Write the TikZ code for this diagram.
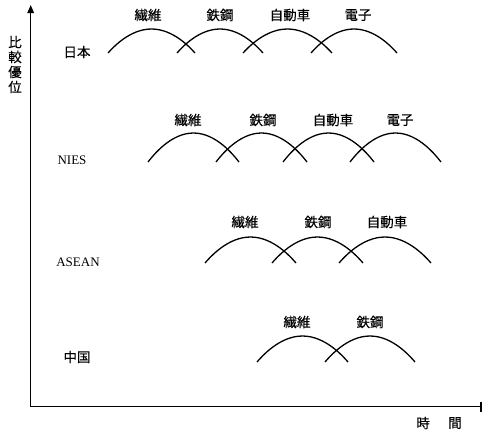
\documentclass[tikz,border=0pt]{standalone}
\usepackage{fontspec}
\setmainfont{Liberation Serif}
\newfontfamily\cjk[FakeBold=0.35]{Noto Sans CJK JP}
\usetikzlibrary{arrows.meta}
\begin{document}
\begin{tikzpicture}[x=1pt,y=-1pt,
  lab/.style={font=\cjk\fontsize{13.5}{13.5}\selectfont, inner sep=0pt},
  rowlab/.style={font=\fontsize{13}{13}\selectfont, inner sep=0pt},
  axis/.style={line width=1.4pt},
  hump/.style={line width=1.3pt}]
\useasboundingbox (0,0) rectangle (482,429);
% axes
\coordinate (O) at (30.7,406.5);
\coordinate (T) at (30.7,5);
\coordinate (R) at (481,406.5);
\draw[axis,-{Triangle[length=8pt,width=6.5pt]}] (O) -- (T);
\draw[axis] (O) -- (R);
\draw[line width=1.8pt] (481,401.5) -- (481,411.5);
% axis labels
\node[lab] (y1) at (15,42) {比};
\node[lab] (y2) at (15,57) {較};
\node[lab] (y3) at (15,72) {優};
\node[lab] (y4) at (15,87) {位};
\node[lab] (t1) at (423,423) {時};
\node[lab] (t2) at (455,423) {間};
% row labels
\node[lab] (jp) at (77,52) {日本};
\node[rowlab] (nies) at (72,160) {NIES};
\node[rowlab] (asean) at (78,262) {ASEAN};
\node[lab] (cn) at (77,357) {中国};
% Japan
\foreach \s/\e in {108/195,177/263,243/332,311/397}
  \draw[hump] (\s,53) parabola bend ({(\s+\e)/2},29) (\e,53);
\node[lab] (jp1) at (148,15) {繊維};
\node[lab] (jp2) at (220,15) {鉄鋼};
\node[lab] (jp3) at (290,15) {自動車};
\node[lab] (jp4) at (358,15) {電子};
% NIES
\foreach \s/\e in {148/239,216/307,283/374,350/441}
  \draw[hump] (\s,162) parabola bend ({(\s+\e)/2},133) (\e,162);
\node[lab] (ni1) at (188,120) {繊維};
\node[lab] (ni2) at (263,120) {鉄鋼};
\node[lab] (ni3) at (333,120) {自動車};
\node[lab] (ni4) at (400,120) {電子};
% ASEAN
\foreach \s/\e in {205/296,272/363,339/431}
  \draw[hump] (\s,263) parabola bend ({(\s+\e)/2},237) (\e,263);
\node[lab] (as1) at (245,222) {繊維};
\node[lab] (as2) at (318,222) {鉄鋼};
\node[lab] (as3) at (387,222) {自動車};
% China
\foreach \s/\e in {257/348,325/415}
  \draw[hump] (\s,362) parabola bend ({(\s+\e)/2},336) (\e,362);
\node[lab] (cn1) at (297,322) {繊維};
\node[lab] (cn2) at (370,322) {鉄鋼};
\end{tikzpicture}
\end{document}
